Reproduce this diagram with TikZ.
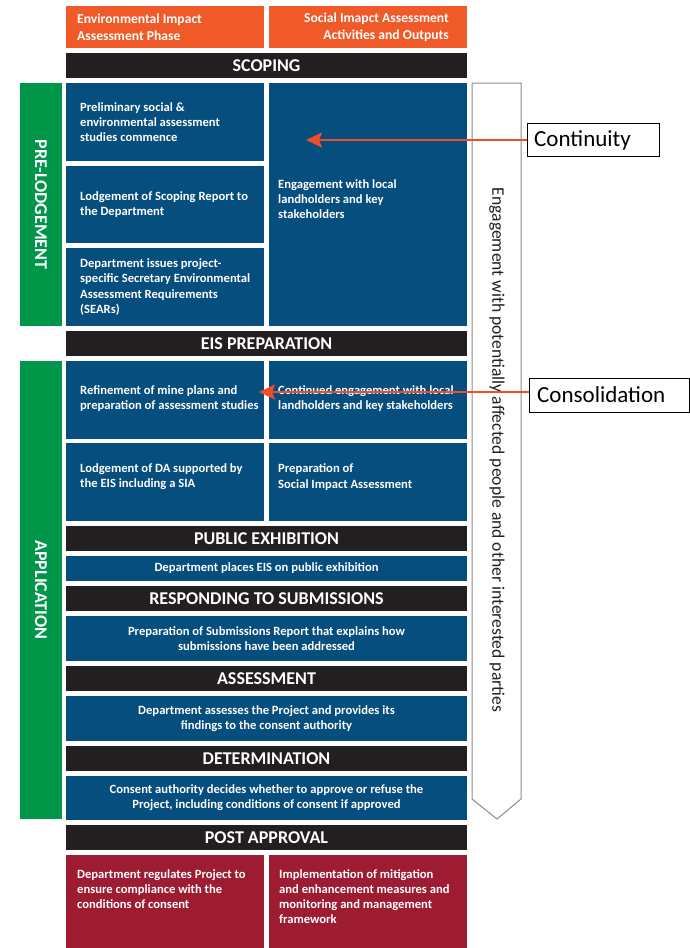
\documentclass[tikz,border=0pt]{standalone}
\usepackage{fontspec}
\setmainfont{Carlito}
\usetikzlibrary{arrows.meta}
\definecolor{hdrorange}{HTML}{F05A28}
\definecolor{boxblue}{HTML}{064E7D}
\definecolor{barblack}{HTML}{231F20}
\definecolor{bargreen}{HTML}{009649}
\definecolor{boxred}{HTML}{9D1C31}
\definecolor{arrowred}{HTML}{EE4F2A}
\definecolor{shapegray}{HTML}{8A8A8A}
\begin{document}
\begin{tikzpicture}[x=1pt,y=-1pt,
  blk/.style={anchor=north west, inner sep=0pt, outer sep=0pt, draw=none},
  half/.style={blk, minimum width=198pt},
  full/.style={blk, minimum width=401pt},
  bodyfont/.style={text=white, font=\bfseries\fontsize{12.6}{15.2}\selectfont},
  txt/.style={bodyfont, inner sep=0pt, align=left, anchor=west},
  bar/.style={full, minimum height=25pt, fill=barblack, text=white, font=\bfseries\fontsize{18}{20}\selectfont},
  bluefull/.style={full, fill=boxblue, bodyfont, align=center},
  greenbar/.style={blk, fill=bargreen, minimum width=42pt},
  vlabel/.style={rotate=-90, text=white, font=\bfseries\fontsize{18}{20}\selectfont, inner sep=0pt},
  callout/.style={draw=black, line width=1pt, fill=white, inner sep=0pt, anchor=north west, font=\fontsize{23}{26}\selectfont},
  pointer/.style={draw=arrowred, line width=2.2pt, -{Stealth[length=16pt,width=15pt,inset=3pt]}}
]
\useasboundingbox (0,0) rectangle (689,948);

% header
\node[half, fill=hdrorange, minimum height=42pt] (h1) at (66,6) {};
\node[half, fill=hdrorange, minimum height=42pt] (h2) at (269,6) {};
\node[bodyfont, font=\bfseries\fontsize{13.6}{17}\selectfont, align=left, anchor=west, inner sep=0pt] (h1t) at (77,27) {Environmental Impact\\Assessment Phase};
\node[bodyfont, font=\bfseries\fontsize{13.6}{17}\selectfont, align=right, anchor=east, inner sep=0pt] (h2t) at (449,27) {Social Imapct Assessment\\Activities and Outputs};

\node[bar] (scoping) at (66,53) {SCOPING};

% pre-lodgement
\node[greenbar, minimum height=243pt] (gpre) at (20,83) {};
\node[vlabel] (gpret) at (gpre.center) {PRE-LODGEMENT};
\node[half, fill=boxblue, minimum height=78pt] (p1) at (66,83) {};
\node[half, fill=boxblue, minimum height=77pt] (p2) at (66,166) {};
\node[half, fill=boxblue, minimum height=78pt] (p3) at (66,248) {};
\node[half, fill=boxblue, minimum height=243pt] (p4) at (269,83) {};
\node[txt] (p1t) at (80,122) {Preliminary social \&\\environmental assessment\\studies commence};
\node[txt] (p2t) at (80,204.5) {Lodgement of Scoping Report to\\the Department};
\node[txt] (p3t) at (80,287) {Department issues project-\\specific Secretary Environmental\\Assessment Requirements\\(SEARs)};
\node[txt] (p4t) at (278,199) {Engagement with local\\landholders and key\\stakeholders};

\node[bar] (eis) at (66,331) {EIS PREPARATION};

% application
\node[greenbar, minimum height=458pt] (gapp) at (20,361) {};
\node[vlabel] (gappt) at (gapp.center) {APPLICATION};
\node[half, fill=boxblue, minimum height=78pt] (a1) at (66,361) {};
\node[half, fill=boxblue, minimum height=78pt] (a2) at (269,361) {};
\node[half, fill=boxblue, minimum height=78pt] (a3) at (66,443) {};
\node[half, fill=boxblue, minimum height=78pt] (a4) at (269,443) {};
\node[txt] (a1t) at (80,398.5) {Refinement of mine plans and\\preparation of assessment studies};
\node[txt] (a2t) at (278,398.5) {Continued engagement with local\\landholders and key stakeholders};
\node[txt] (a3t) at (80,477) {Lodgement of DA supported by\\the EIS including a SIA};
\node[txt] (a4t) at (278,477) {Preparation of\\Social Impact Assessment};

\node[bar] (pubex) at (66,526) {PUBLIC EXHIBITION};
\node[bluefull, minimum height=25pt] (pubexb) at (66,556) {Department places EIS on public exhibition};
\node[bar] (resp) at (66,586) {RESPONDING TO SUBMISSIONS};
\node[bluefull, minimum height=45pt] (respb) at (66,616) {Preparation of Submissions Report that explains how\\submissions have been addressed};
\node[bar] (assess) at (66,666) {ASSESSMENT};
\node[bluefull, minimum height=45pt] (assessb) at (66,696) {Department assesses the Project and provides its\\findings to the consent authority};
\node[bar] (determ) at (66,746) {DETERMINATION};
\node[bluefull, minimum height=44pt] (determb) at (66,776) {Consent authority decides whether to approve or refuse the\\Project, including conditions of consent if approved};

\node[bar] (post) at (66,825) {POST APPROVAL};
\node[half, fill=boxred, minimum height=93pt] (r1) at (66,855) {};
\node[half, fill=boxred, minimum height=93pt] (r2) at (269,855) {};
\node[txt, anchor=north west] (r1t) at (77,869) {Department regulates Project to\\ensure compliance with the\\conditions of consent};
\node[txt, anchor=north west] (r2t) at (279,869) {Implementation of mitigation\\and enhancement measures and\\monitoring and management\\framework};

% long arrow shape
\draw[draw=shapegray, line width=1pt, fill=white] (472,83) -- (521,83) -- (521,799) -- (497,819) -- (472,799) -- cycle;
\node[rotate=-90, inner sep=0pt, text=barblack, font=\fontsize{17.6}{20}\selectfont] (engage) at (497,450) {Engagement with potentially affected people and other interested parties};

% callouts
\node[callout, minimum width=132pt, minimum height=33pt] (cont) at (527,123) {};
\node[anchor=west, inner sep=0pt, font=\fontsize{23}{26}\selectfont] (contt) at (534,140) {Continuity};
\node[callout, minimum width=160pt, minimum height=34pt] (cons) at (529,378) {};
\node[anchor=west, inner sep=0pt, font=\fontsize{23}{26}\selectfont] (const) at (537,395) {Consolidation};
\coordinate (conttip) at (306,140);
\coordinate (constip) at (259,392);
\draw[pointer] (cont.west) -- (conttip);
\draw[pointer] (cons.west |- constip) -- (constip);
\end{tikzpicture}
\end{document}
